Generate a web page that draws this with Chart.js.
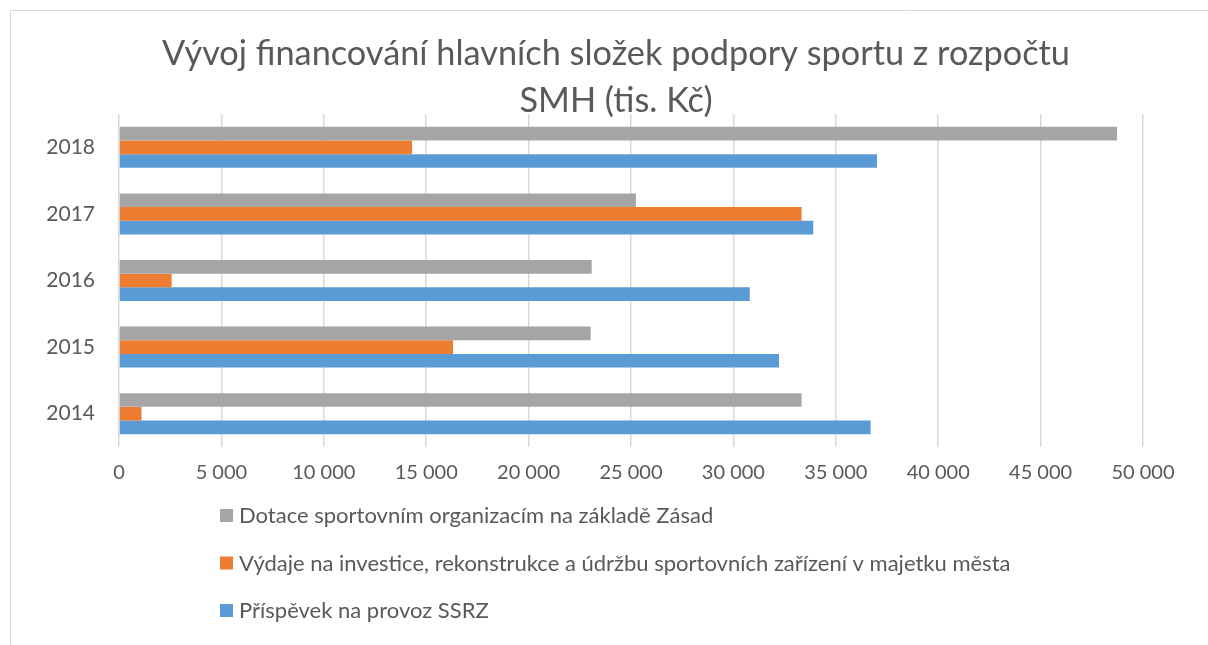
<!DOCTYPE html>
<html>
<head>
<meta charset="utf-8">
<script src="https://cdn.jsdelivr.net/npm/chart.js@4.4.1/dist/chart.umd.min.js"></script>
<style>
  html, body { margin: 0; padding: 0; background: #ffffff; }
  #wrap { width: 1208px; height: 645px; }
</style>
</head>
<body>
<div id="wrap"><canvas id="myChart1" width="1208" height="645"></canvas></div>
<script>
// data (tis. Kč)
const years = ['2014', '2015', '2016', '2017', '2018'];
const dotace = [33330, 23030, 23080, 25240, 48730];
const vydaje = [1100, 16310, 2570, 33330, 14310];
const prispevek = [36700, 32230, 30800, 33900, 37010];
const xTicks = [0, 5000, 10000, 15000, 20000, 25000, 30000, 35000, 40000, 45000, 50000];

const seriesNames = [
    'Dotace sportovním organizacím na základě Zásad',
    'Výdaje na investice, rekonstrukce a údržbu sportovních zařízení v majetku města',
    'Příspěvek na provoz SSRZ'
];
const titleLines = ['Vývoj financování hlavních složek podpory sportu z rozpočtu', 'SMH (tis. Kč)'];

const textColor = '#595959';
const fontName = 'Lato, "Open Sans", sans-serif';

function fmt(v) {
    return String(v).replace(/\B(?=(\d{3})+(?!\d))/g, ' ');
}

// frame, title and legend drawn by hand (excel style)
const decor = {
    id: 'decor',
    beforeDraw(chart) {
        const c = chart.ctx;
        c.save();
        c.strokeStyle = '#d9d9d9';
        c.lineWidth = 1;
        c.beginPath();
        c.moveTo(10.5, 645);
        c.lineTo(10.5, 10.5);
        c.lineTo(1208, 10.5);
        c.stroke();
        c.restore();
    },
    afterDraw(chart) {
        const c = chart.ctx;
        c.save();
        c.fillStyle = textColor;
        c.textAlign = 'center';
        c.textBaseline = 'alphabetic';
        c.font = '34.3px ' + fontName;
        c.fillText(titleLines[0], 616, 65);
        c.fillText(titleLines[1], 616, 112);

        c.textAlign = 'left';
        c.textBaseline = 'middle';
        c.font = '22px ' + fontName;
        chart.data.datasets.forEach(function(ds, i) {
            const y = 516 + i * 47.5;
            c.fillStyle = ds.backgroundColor;
            c.fillRect(220, y - 7, 13, 13);
            c.fillStyle = textColor;
            c.fillText(ds.label, 239, y);
        });
        c.restore();
    }
};

var ctx = document.getElementById('myChart1').getContext('2d');
var myChart1 = new Chart(ctx, {
    type: 'bar',
    data: {
        labels: years,
        datasets: [{
            label: seriesNames[0],
            data: dotace,
            backgroundColor: '#A5A5A5'
        },
        {
            label: seriesNames[1],
            data: vydaje,
            backgroundColor: '#ED7D31'
        },
        {
            label: seriesNames[2],
            data: prispevek,
            backgroundColor: '#5B9BD5'
        }]
    },
    options: {
        indexAxis: 'y',
        responsive: false,
        animation: false,
        categoryPercentage: 0.615,
        barPercentage: 1.0,
        layout: {
            padding: { left: 0, right: 65, top: 114, bottom: 158 }
        },
        plugins: {
            legend: { display: false },
            title: { display: false },
            tooltip: { enabled: false }
        },
        scales: {
            x: {
                min: 0,
                max: 50000,
                afterBuildTicks: function(scale) {
                    scale.ticks = xTicks.map(v => ({ value: v }));
                },
                afterFit: function(scale) { scale.height = 40; },
                grid: {
                    color: '#d9d9d9',
                    lineWidth: 1.5,
                    drawTicks: false
                },
                border: { display: false },
                ticks: {
                    padding: 14,
                    color: textColor,
                    font: { family: fontName, size: 20 },
                    callback: function(v) { return fmt(v); }
                }
            },
            y: {
                reverse: true,
                afterFit: function(scale) { scale.width = 119; },
                grid: { display: false, drawTicks: false },
                border: { display: false },
                ticks: {
                    padding: 24,
                    color: textColor,
                    font: { family: fontName, size: 21 }
                }
            }
        }
    },
    plugins: [decor]
});
</script>
</body>
</html>
